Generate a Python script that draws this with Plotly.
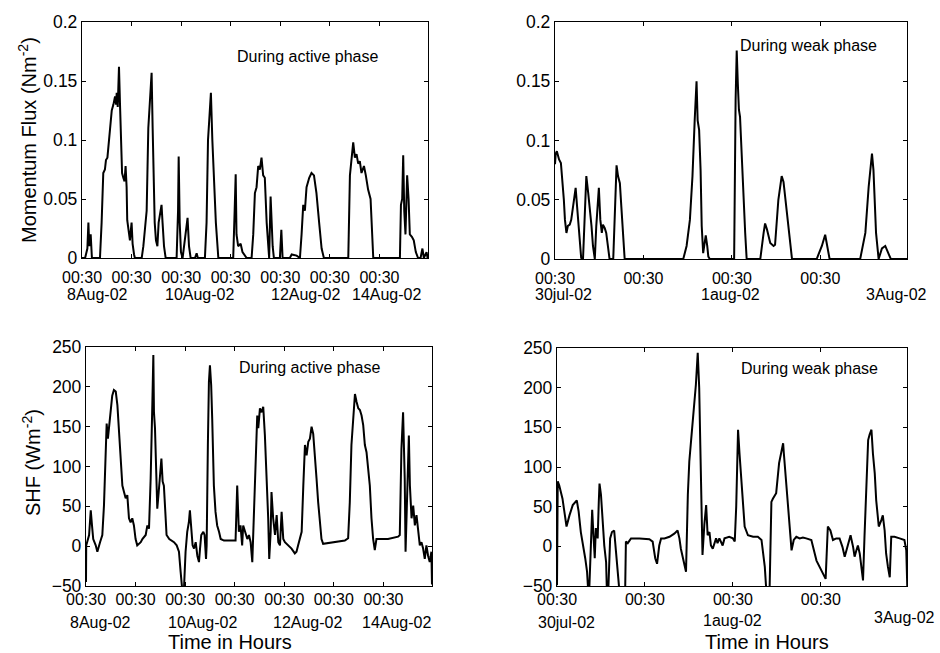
import plotly.graph_objects as go

# ---------------- data ----------------
# Active phase (8-14 Aug 2002), hours since 00:30 of the first day
act_mf_hours = [0, 1.5, 2.6, 3.1, 3.5, 4.2, 4.8, 8.7, 9.5, 10.3, 11.1, 11.6, 12.3, 13.2, 14.4, 15.2,
                16.0, 16.5, 16.8, 17.3, 17.9, 18.4, 18.9, 19.4, 20.0, 20.6, 21.1, 21.6, 21.9, 22.6,
                23.2, 24.0, 24.5, 25.2, 25.6, 28.9, 29.7, 30.5, 31.3, 32.1, 32.7, 33.2, 33.7, 34.2,
                34.7, 35.2, 35.8, 36.5, 37.1, 37.7, 38.5, 39.0, 39.7, 40.5, 45.8, 46.5, 46.8, 47.3,
                47.9, 48.7, 49.5, 50.3, 51.1, 51.8, 52.6, 54.7, 55.5, 56.1, 59.5, 60.3, 61.0, 61.6,
                62.1, 62.4, 63.1, 63.9, 64.8, 66.0, 73.2, 73.9, 74.4, 74.8, 75.6, 76.8, 77.7, 79.7,
                82.1, 82.9, 83.7, 84.5, 85.3, 86.1, 86.9, 87.7, 88.5, 89.4, 90.2, 90.6, 91.3, 91.8,
                92.3, 92.9, 95.8, 96.5, 97.1, 100.6, 101.5, 103.9, 105.5, 106.3, 107.1, 107.9, 108.7,
                110.0, 111.1, 112.3, 113.5, 114.8, 116.0, 117.1, 128.9, 129.7, 130.5, 131.3, 132.1,
                132.9, 133.7, 134.5, 135.3, 136.5, 137.4, 138.5, 139.7, 140.3, 141.0, 153.9, 154.4,
                155.0, 155.5, 156.0, 156.6, 157.4, 158.1, 158.7, 159.7, 160.6, 161.6, 162.7, 163.9,
                164.8, 165.5, 166.8, 167.3]
act_mf = [0, 0, 0.008, 0.03, 0.01, 0.02, 0, 0, 0.03, 0.072, 0.075, 0.083, 0.085, 0.105, 0.125, 0.13,
          0.137, 0.13, 0.14, 0.128, 0.162, 0.13, 0.1, 0.072, 0.068, 0.065, 0.078, 0.06, 0.032, 0.02,
          0.015, 0.03, 0.012, 0.003, 0, 0, 0.01, 0.025, 0.04, 0.11, 0.128, 0.15, 0.157, 0.11,
          0.06, 0.03, 0.015, 0.01, 0.03, 0.037, 0.045, 0.03, 0.01, 0, 0, 0.04, 0.086, 0.03,
          0.005, 0, 0.01, 0.02, 0.034, 0.01, 0, 0, 0.004, 0, 0, 0.03, 0.1, 0.117,
          0.128, 0.14, 0.1, 0.061, 0.03, 0, 0, 0.04, 0.071, 0.02, 0.01, 0.012, 0.005, 0,
          0, 0.02, 0.055, 0.06, 0.078, 0.075, 0.085, 0.07, 0.068, 0.03, 0.003, 0, 0.052, 0.02,
          0.01, 0, 0, 0.024, 0, 0, 0.003, 0.002, 0, 0.02, 0.045, 0.04, 0.06,
          0.068, 0.072, 0.07, 0.055, 0.03, 0.008, 0, 0, 0.07, 0.085, 0.098, 0.085,
          0.088, 0.08, 0.082, 0.072, 0.078, 0.07, 0.058, 0.05, 0.03, 0, 0, 0.045,
          0.05, 0.087, 0.04, 0.02, 0.07, 0.05, 0.02, 0.018, 0.015, 0.005, 0, 0,
          0.008, 0, 0.005, 0]

act_shf_hours = [0, 0.1, 1.5, 2.3, 2.9, 3.5, 4.7, 5.5, 6.8, 7.9, 8.7, 9.5, 10.0, 10.6, 11.1, 11.9,
                 12.7, 13.5, 14.4, 15.2, 16.0, 16.8, 17.6, 18.4, 19.2, 20.0, 20.8, 21.6, 22.4, 23.2,
                 24.0, 24.8, 25.6, 26.5, 27.3, 28.9, 29.7, 30.5, 31.3, 31.6, 32.1, 32.6, 32.9, 33.4,
                 34.0, 34.5, 35.2, 35.8, 36.5, 37.1, 37.7, 38.4, 39.0, 40.3, 42.6, 43.9, 45.0, 45.8,
                 46.6, 47.4, 48.2, 49.0, 49.8, 50.3, 51.0, 51.6, 52.3, 53.1, 53.9, 54.7, 55.2, 55.8,
                 56.8, 57.4, 58.1, 58.4, 59.0, 59.5, 60.0, 60.6, 61.1, 61.9, 62.7, 63.5, 64.4, 65.2,
                 66.8, 72.4, 73.2, 74.0, 74.8, 75.6, 76.1, 77.3, 78.1, 78.9, 79.7, 80.5, 81.0, 81.6,
                 82.3, 82.9, 83.4, 84.2, 85.0, 85.8, 86.6, 87.4, 88.2, 88.7, 89.4, 89.8, 90.6, 91.5,
                 92.3, 93.1, 93.9, 94.7, 95.5, 96.3, 97.9, 99.5, 101.1, 101.9, 102.7, 103.5, 104.4,
                 105.2, 106.0, 106.8, 107.6, 108.4, 109.2, 110.0, 110.8, 111.6, 112.4, 113.2, 114.0,
                 114.8, 120.5, 125.3, 126.9, 127.7, 128.5, 129.4, 130.2, 131.0, 131.8, 132.6, 133.4,
                 134.2, 135.0, 135.8, 136.6, 137.4, 138.2, 139.0, 139.8, 140.6, 146.2, 151.1, 151.9,
                 152.7, 153.5, 154.3, 154.7, 155.6, 156.3, 156.8, 157.6, 158.4, 159.2, 160.0, 160.8,
                 161.6, 162.4, 163.2, 164.0, 164.8, 165.6, 166.4, 167.2, 167.5]
act_shf = [-45, 1, 14, 45, 26, 9, 1, -7, 5, 14, 51, 127, 154, 135, 148, 168,
           189, 196, 194, 177, 143, 114, 76, 68, 60, 64, 35, 30, 35, 26,
           9, 1, 3, 5, 9, 14, 26, 22, 85, 135, 177, 240, 168, 148,
           76, 47, 68, 93, 110, 81, 76, 43, 14, 9, 5, 1, -7, -32,
           -55, -55, -7, 18, 30, 45, 26, 1, -3, 5, -12, -20, -3, 14,
           18, 14, -16, 1, 127, 206, 227, 202, 160, 76, 43, 26, 18, 9,
           7, 7, 76, 18, 26, 1, 26, 14, 9, 14, 5, -20, 18, 85,
           143, 164, 148, 173, 168, 175, 139, 93, 35, -16, 18, 68, 35, 14,
           39, 5, 1, 43, 9, 5, 1, -3, -9, -7, 1, 9, 18,
           76, 127, 114, 131, 135, 150, 141, 118, 85, 55, 26, 9,
           3, 5, 7, 10, 55, 127, 168, 191, 181, 173, 171, 164,
           152, 127, 118, 93, 76, 35, 9, -5, 9, 9, 12, 14,
           122, 168, 85, -7, 85, 139, 76, 35, 51, 26, 39, 18,
           1, 5, -3, -16, 1, -12, -20, -7, -48]

# Weak phase (30 Jul - 3 Aug 2002), hours since 00:30 of the first day
weak_mf_hours = [0, 0.2, 0.5, 1.1, 1.6, 2.0, 2.4, 2.7, 3.1, 3.5, 4.0, 4.4, 4.9, 5.3, 5.6, 6.0,
                 6.3, 6.7, 7.1, 7.6, 8.1, 8.5, 9.0, 9.4, 9.9, 10.3, 10.8, 11.2, 11.6, 11.9, 12.3,
                 12.7, 13.0, 13.5, 13.9, 14.4, 14.8, 15.8, 16.2, 16.7, 17.1, 17.6, 18.0, 18.5, 18.9,
                 34.8, 35.7, 36.6, 37.3, 37.9, 38.4, 38.7, 39.1, 39.5, 39.8, 40.2, 40.6, 40.9, 41.3,
                 41.6, 42.0, 48.6, 49.0, 49.3, 49.6, 49.9, 50.2, 50.7, 51.1, 51.6, 52.0, 55.7, 56.6,
                 57.0, 57.5, 58.4, 59.3, 59.7, 60.6, 61.5, 62.0, 62.9, 63.8, 64.3, 71.0, 72.4, 73.3,
                 73.9, 74.5, 82.8, 84.2, 85.1, 86.0, 86.4, 87.1, 87.8, 88.7, 89.6, 90.5, 91.1, 95.5]
weak_mf = [0.08, 0.089, 0.091, 0.084, 0.081, 0.067, 0.05, 0.033, 0.022, 0.028, 0.029, 0.033, 0.044,
           0.053, 0.06, 0.044, 0.033, 0.016, 0.001, 0, 0.033, 0.07, 0.056, 0.044, 0.028, 0.011,
           0, 0.028, 0.05, 0.06, 0.033, 0.022, 0.029, 0.026, 0.022, 0.011, 0, 0, 0.044, 0.079,
           0.07, 0.064, 0.044, 0.022, 0, 0, 0.011, 0.033, 0.07, 0.117, 0.15, 0.117, 0.109, 0.075,
           0.028, 0.005, 0.016, 0.02, 0.011, 0.002, 0, 0, 0.134, 0.176, 0.148, 0.126, 0.12,
           0.081, 0.05, 0.022, 0, 0, 0.022, 0.03, 0.025, 0.0135, 0.011, 0.012, 0.05, 0.07,
           0.065, 0.039, 0.011, 0, 0, 0.011, 0.0205, 0.011, 0, 0, 0.022, 0.061, 0.089, 0.075,
           0.022, 0, 0.009, 0.011, 0.004, 0, 0]

weak_shf_hours = [0, 0.2, 0.6, 1.1, 1.5, 2.0, 2.6, 3.4, 4.3, 5.4, 5.9, 6.5, 7.2, 7.7, 8.2, 8.5,
                  8.8, 9.3, 9.6, 9.9, 10.3, 10.6, 11.1, 11.4, 11.6, 12.0, 12.5, 12.9, 13.4, 13.6,
                  14.0, 14.5, 15.0, 15.6, 16.1, 16.6, 17.0, 18.6, 18.8, 19.3, 20.2, 22.5, 25.2, 26.1,
                  26.8, 27.3, 27.9, 28.4, 29.3, 30.7, 32.0, 32.9, 33.4, 33.8, 34.7, 35.2, 35.7, 36.1,
                  36.8, 37.5, 37.9, 38.4, 38.8, 39.1, 39.5, 39.7, 40.2, 40.7, 41.1, 41.6, 42.0, 42.5,
                  43.4, 43.8, 44.3, 45.2, 45.7, 47.0, 48.0, 48.5, 48.9, 49.4, 49.8, 50.3, 50.7, 51.2,
                  52.1, 53.5, 54.8, 55.8, 56.7, 57.1, 58.0, 58.5, 58.9, 59.8, 60.6, 61.2, 61.7, 61.9,
                  62.4, 63.0, 63.7, 64.0, 64.6, 65.3, 66.2, 67.1, 68.0, 69.4, 70.8, 72.1, 73.3, 73.9,
                  74.6, 75.3, 76.2, 77.1, 77.9, 78.5, 79.4, 80.1, 80.8, 81.2, 81.7, 82.1, 82.6, 83.0,
                  83.5, 83.9, 84.4, 84.9, 85.3, 85.8, 86.2, 86.7, 87.1, 87.8, 88.5, 88.9, 89.4, 89.8,
                  90.3, 90.8, 91.2, 92.1, 93.5, 94.8, 95.3, 95.6]
weak_shf = [-49, 82, 77, 69, 60, 44, 25, 39, 52, 58, 44, 18, 1, -15, -32, -55,
            -55, 1, 46, 18, -15, 23, 10, 56, 79, 65, 27, 1, -20, -55,
            -55, 10, 18, 20, -7, -36, -55, -55, 6, 4, 10, 10, 9, 6,
            -15, -22, 1, 10, 10, 12, 16, 20, 10, -3, -20, -32, 65, 107,
            145, 183, 204, 244, 200, 128, 52, -11, 27, 52, 14, 18, 1, -3,
            10, 4, 10, 1, 10, 12, 10, 6, 50, 147, 117, 84, 50, 25,
            14, 12, 12, 8, -26, -55, -55, 56, 60, 67, 105, 117, 130, 117,
            88, 42, 12, -5, 8, 12, 10, 11, 10, 8, -18, -30, -41, 25,
            20, 8, 10, 10, -1, -13, 4, 14, -1, -13, -5, 1, -9, -26,
            -43, 12, 75, 134, 141, 147, 117, 92, 58, 25, 33, 39, 20, -9,
            -26, -39, 12, 12, 10, 8, -5, -55]

# Axis ticks and date captions
act_tick_hours = [0, 24, 48, 72, 96, 120, 144]
weak_tick_hours = [0, 24, 48, 72]
tick_label = "00:30"
act_date_text = ["8Aug-02", "10Aug-02", "12Aug-02", "14Aug-02"]
act_date_hours_top = [7.3, 57, 108, 147.6]
act_date_hours_bot = [6.8, 56.6, 107, 150.5]
weak_date_text = ["30jul-02", "1aug-02", "3Aug-02"]
weak_date_hours_top = [2.2, 47.5, 92.7]
weak_date_hours_bot = [2.6, 48, 94.9]

mf_ticks = [0, 0.05, 0.1, 0.15, 0.2]
mf_tick_text = ["0", "0.05", "0.1", "0.15", "0.2"]
shf_ticks = [-50, 0, 50, 100, 150, 200, 250]

# ---------------- layout helpers ----------------
W, H = 940, 653
FONT = "Liberation Sans, Arial, Helvetica, sans-serif"


def fx(p):
    return p / W


def fy(p):
    return 1 - p / H


def base_axis(**kw):
    d = dict(showline=True, linecolor="black", linewidth=1.3, mirror="ticks",
             ticks="inside", ticklen=4, tickcolor="black", tickwidth=1.3,
             showgrid=False, zeroline=False, fixedrange=True, automargin=False)
    d.update(kw)
    return d


fig = go.Figure()
line = dict(color="black", width=2)
series = [(act_mf_hours, act_mf, "x", "y"),
          (weak_mf_hours, weak_mf, "x2", "y2"),
          (act_shf_hours, act_shf, "x3", "y3"),
          (weak_shf_hours, weak_shf, "x4", "y4")]
for xs, ys, xa, ya in series:
    fig.add_trace(go.Scatter(x=xs, y=ys, mode="lines", line=line, xaxis=xa, yaxis=ya,
                             showlegend=False, hoverinfo="skip"))

xt_font = dict(family=FONT, size=16, color="black")
yt_font = dict(family=FONT, size=17.5, color="black")

layout = dict(
    width=W, height=H, margin=dict(l=0, r=0, t=0, b=0, autoexpand=False),
    paper_bgcolor="white", plot_bgcolor="white", showlegend=False,
    font=dict(family=FONT, color="black"),
    xaxis=base_axis(domain=[fx(82), fx(428)], anchor="y", range=[0, 167.5],
                    tickvals=act_tick_hours, ticktext=[tick_label] * len(act_tick_hours),
                    tickfont=xt_font, ticklabelstandoff=5),
    yaxis=base_axis(domain=[fy(258), fy(22)], anchor="x", range=[0, 0.2],
                    tickvals=mf_ticks, ticktext=mf_tick_text, tickfont=yt_font),
    xaxis2=base_axis(domain=[fx(555), fx(907)], anchor="y2", range=[0, 95.5],
                     tickvals=weak_tick_hours, ticktext=[tick_label] * len(weak_tick_hours),
                     tickfont=xt_font, ticklabelstandoff=5),
    yaxis2=base_axis(domain=[fy(259), fy(22)], anchor="x2", range=[0, 0.2],
                     tickvals=mf_ticks, ticktext=mf_tick_text, tickfont=yt_font),
    xaxis3=base_axis(domain=[fx(86), fx(432)], anchor="y3", range=[0, 167.5],
                     tickvals=act_tick_hours, ticktext=[tick_label] * len(act_tick_hours),
                     tickfont=xt_font, ticklabelstandoff=-1),
    yaxis3=base_axis(domain=[fy(586), fy(347)], anchor="x3", range=[-50, 250],
                     tickvals=shf_ticks, tickfont=yt_font),
    xaxis4=base_axis(domain=[fx(557), fx(907)], anchor="y4", range=[0, 95.5],
                     tickvals=weak_tick_hours, ticktext=[tick_label] * len(weak_tick_hours),
                     tickfont=xt_font, ticklabelstandoff=-1),
    yaxis4=base_axis(domain=[fy(586), fy(348)], anchor="x4", range=[-50, 250],
                     tickvals=shf_ticks, tickfont=yt_font),
)
fig.update_layout(**layout)

ann = []


def text(x, y, s, size, xref="paper", angle=0):
    ann.append(dict(x=x, y=y, xref=xref, yref="paper", text=s, showarrow=False,
                    textangle=angle, xanchor="center", yanchor="middle",
                    font=dict(family=FONT, size=size, color="black")))


# date captions under the hour ticks
for h, s in zip(act_date_hours_top, act_date_text):
    text(h, fy(295), s, 16, xref="x")
for h, s in zip(act_date_hours_bot, act_date_text):
    text(h, fy(622), s, 16, xref="x3")
for h, s in zip(weak_date_hours_top, weak_date_text):
    text(h, fy(295), s, 16, xref="x2")
for h, s, py in zip(weak_date_hours_bot, weak_date_text, [622, 620, 617]):
    text(h, fy(py), s, 16, xref="x4")

# panel captions
text(fx(308), fy(57), "During active phase", 16)
text(fx(310), fy(367), "During active phase", 16)
text(fx(808), fy(45), "During weak phase", 16)
text(fx(809), fy(368), "During weak phase", 16)

# axis titles
text(fx(28), fy(140), "Momentum Flux (Nm<sup>-2</sup>)", 20, angle=-90)
text(fx(31), fy(463), "SHF (Wm<sup>-2</sup>)", 20, angle=-90)
text(fx(230), fy(642), "Time in Hours", 20)
text(fx(767), fy(642), "Time in Hours", 20)

fig.update_layout(annotations=ann)
fig.write_html("out.html")
